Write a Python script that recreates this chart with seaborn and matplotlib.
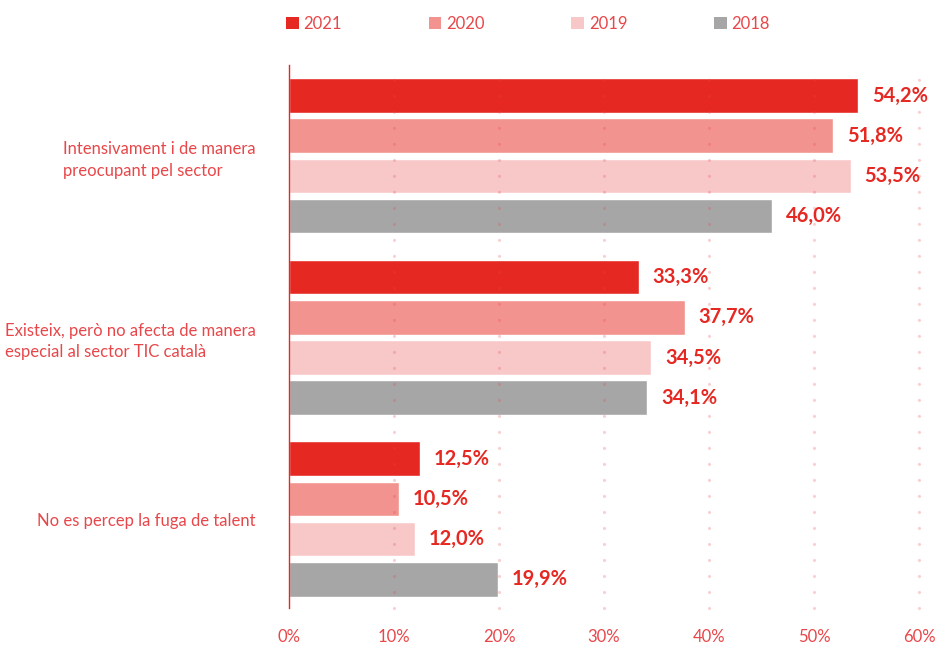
import pandas as pd
import matplotlib.pyplot as plt
import seaborn as sns
from matplotlib.patches import Patch

categories = [
    "Intensivament i de manera\npreocupant pel sector",
    "Existeix, però no afecta de manera\nespecial al sector TIC català",
    "No es percep la fuga de talent",
]
years = ["2021", "2020", "2019", "2018"]
values_2021 = [54.2, 33.3, 12.5]
values_2020 = [51.8, 37.7, 10.5]
values_2019 = [53.5, 34.5, 12.0]
values_2018 = [46.0, 34.1, 19.9]
colors = ["#e52822", "#f2938f", "#f8c8c9", "#a6a6a6"]
xticks = [0, 10, 20, 30, 40, 50, 60]

red = "#e52822"
txt_red = "#e8474a"

rows = []
for year, vals in zip(years, [values_2021, values_2020, values_2019, values_2018]):
    for cat, v in zip(categories, vals):
        rows.append({"cat": cat, "year": year, "value": v})
df = pd.DataFrame(rows)

sns.set_style("white")
plt.rcParams["font.family"] = ["Lato", "DejaVu Sans"]

fig = plt.figure(figsize=(9.36, 6.45), dpi=100)
ax = fig.add_axes([289 / 936, 1 - 608 / 645, 630 / 936, 543 / 645])

sns.barplot(data=df, y="cat", x="value", hue="year", hue_order=years,
            palette=colors, width=0.885, gap=0.14, orient="h",
            saturation=1, legend=False, ax=ax, zorder=2)

# value labels
for container in ax.containers:
    labels = [f"{w:.1f}%".replace(".", ",") for w in container.datavalues]
    ax.bar_label(container, labels=labels, padding=10, color=red,
                 fontsize=14.5, fontweight="bold")

# dotted grid
for x in xticks[1:]:
    ax.axvline(x, color=txt_red, alpha=0.25, lw=2.3,
               linestyle=(0, (0.01, 5.0)), dash_capstyle="round",
               zorder=3, clip_on=False)

ax.set_xlim(0, 60)
ax.set_ylim(2.49, -0.5)
ax.set_xticks(xticks)
ax.set_xticklabels([f"{x}%" for x in xticks])
ax.tick_params(axis="x", length=0, pad=15, labelcolor=txt_red, labelsize=12)
ax.tick_params(axis="y", length=0, pad=24, labelcolor=txt_red, labelsize=12)
for lab in ax.get_yticklabels():
    lab.set_multialignment("left")
    lab.set_linespacing(1.4)
ax.set_xlabel("")
ax.set_ylabel("")
for s in ["top", "right", "bottom"]:
    ax.spines[s].set_visible(False)
ax.spines["left"].set_color(red)
ax.spines["left"].set_linewidth(1)

handles = [Patch(facecolor=c, edgecolor="none") for c in colors]
leg = fig.legend(handles, years, loc="center left", ncol=4,
                 bbox_to_anchor=(271 / 936, 1 - 24 / 645), frameon=False,
                 handlelength=0.75, handleheight=0.75, handletextpad=0.3,
                 columnspacing=5.2, fontsize=12)
for t in leg.get_texts():
    t.set_color(txt_red)

fig.savefig("out.png", dpi=100)
